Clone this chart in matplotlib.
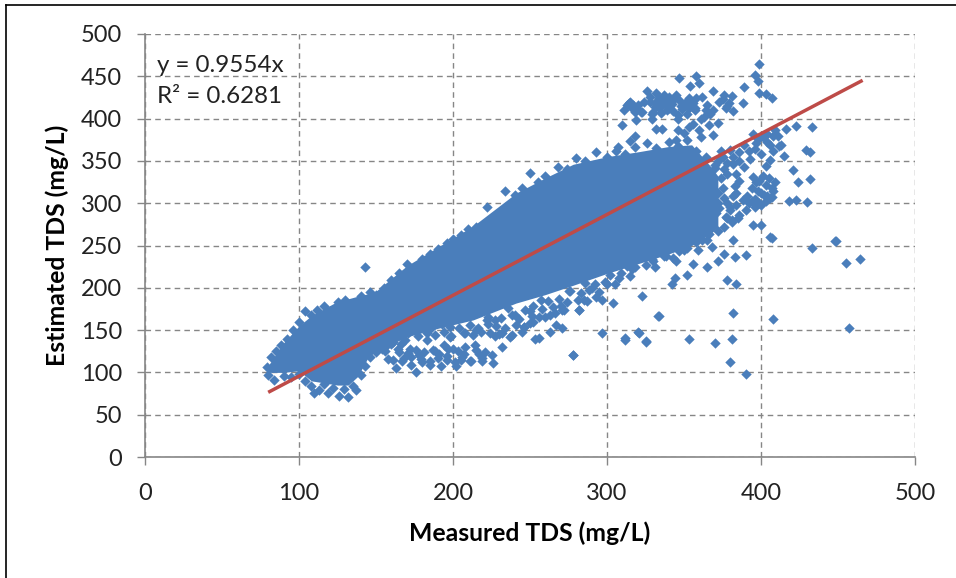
"""Measured vs estimated TDS scatter with a trend line through the origin"""
import matplotlib
matplotlib.use('Agg')
import matplotlib.pyplot as plt
from matplotlib.lines import Line2D

plt.rcParams['font.family'] = ['Lato', 'DejaVu Sans']

# the middle of the cloud is saturated, single points cannot be read there,
# so it is kept as an envelope
core_x = [80, 90, 100, 108, 115, 125, 132, 138, 145, 150, 170, 190, 213, 241,
          260, 278, 300, 321, 340, 355, 368, 372]
core_upper = [108, 135, 155, 167, 174, 184, 187, 190, 193, 196, 226, 248, 273,
              312, 330, 346, 355, 361, 367, 369, 342, 332]
core_lower = [100, 100, 102, 90, 88, 85, 85, 95, 118, 125, 142, 152, 162, 182,
              192, 203, 217, 229, 240, 250, 265, 272]

# points on the upper edge of the cloud
upper_x = [79, 82, 85, 88, 92, 96, 100, 104, 108, 112, 116, 120, 125, 130, 135,
           140, 146, 150, 155, 160, 165, 170, 175, 180, 185, 190, 196, 200,
           205, 210, 215, 222, 228, 234, 240, 245, 250, 255, 260, 268, 274,
           280, 286, 293, 300, 306, 312, 318, 326, 332, 340, 346, 352, 358,
           364, 370, 143]
upper_y = [106, 118, 125, 132, 140, 150, 160, 172, 168, 174, 178, 172, 183,
           186, 179, 190, 195, 192, 200, 209, 218, 228, 225, 234, 240, 246,
           253, 258, 262, 270, 272, 295, 284, 315, 310, 318, 336, 325, 332,
           343, 340, 353, 350, 360, 355, 362, 358, 366, 371, 365, 372, 368,
           375, 362, 355, 345, 225]

# points on the lower edge, left lump and the broken band under the cloud
lower_x = [80, 84, 90, 95, 100, 104, 108, 110, 113, 116, 119, 122, 126, 129,
           132, 135, 137, 140, 143, 146, 150, 154, 158, 163, 168, 173, 176,
           180, 185, 188, 192, 196, 200, 202, 205, 208, 211, 214, 217, 219,
           222, 224, 226, 227, 230, 232, 237, 240, 245, 246, 250, 252, 253,
           256, 260, 263, 266, 270, 271, 272, 275, 278, 282, 287, 290, 293,
           297, 300, 304, 308, 312, 316, 320, 323, 325, 330, 334, 338, 344,
           350, 356, 362, 152, 160, 165, 172, 178, 183, 194, 198, 208, 215]
lower_y = [97, 91, 96, 94, 98, 90, 84, 76, 79, 86, 76, 82, 72, 80, 71, 84, 79,
           97, 107, 118, 124, 128, 116, 105, 117, 109, 101, 112, 109, 125, 107,
           119, 128, 107, 115, 130, 113, 132, 122, 113, 162, 146, 111, 162,
           145, 130, 142, 168, 148, 154, 172, 160, 140, 141, 165, 148, 170,
           178, 153, 174, 196, 120, 174, 184, 200, 189, 186, 205, 182, 212,
           138, 222, 148, 190, 136, 232, 167, 238, 212, 245, 228, 256, 138,
           134, 124, 128, 120, 138, 132, 142, 146, 150]

# more of the broken band, thick enough to read as one mass with small gaps
band_x = [148, 152, 157, 161, 166, 169, 156, 164, 171, 176, 181, 187, 191, 197,
          203, 207, 215, 221, 161, 167, 173, 179, 185, 190, 196, 201, 206, 212,
          219, 225, 171, 177, 183, 188, 194, 199, 207, 213, 218, 227, 232, 238,
          181, 186, 193, 198, 204, 211, 216, 223, 228, 234, 241, 246, 250, 223,
          231, 238, 243, 251, 256, 263, 236, 247, 252, 258, 265, 271, 257, 262,
          269, 274, 281, 285, 276, 283, 288, 295, 286, 292, 299, 305, 302, 309,
          315, 313, 318, 325, 331, 322, 329, 337, 343, 338, 347, 352, 359, 350,
          358, 365, 360, 366, 372]
band_y = [134, 137, 132, 136, 134, 138, 125, 128, 123, 127, 124, 126, 122, 128,
          125, 122, 127, 124, 115, 113, 118, 116, 113, 117, 115, 112, 118, 114,
          117, 120, 146, 143, 147, 144, 148, 143, 146, 144, 148, 143, 147, 144,
          155, 153, 157, 154, 152, 156, 153, 157, 155, 152, 156, 154, 158, 166,
          164, 168, 163, 167, 165, 168, 176, 174, 178, 175, 177, 174, 186, 184,
          187, 183, 186, 185, 196, 194, 197, 195, 206, 204, 207, 205, 215, 217,
          214, 226, 224, 227, 225, 236, 234, 237, 235, 246, 244, 247, 245, 256,
          254, 257, 266, 264, 267]

# isolated points to the lower right
outlier_x = [448, 455, 464, 457, 390, 381, 370, 380, 382, 390, 383, 408, 406,
             378, 384, 358, 382, 353, 333, 321, 312, 325, 297, 278, 267, 282,
             433, 449, 395, 400, 407, 365, 372, 352, 342, 376, 368, 345]
outlier_y = [255, 229, 234, 152, 98, 139, 135, 112, 170, 239, 236, 163, 260,
             209, 205, 260, 257, 139, 167, 147, 141, 137, 147, 120, 156, 174,
             247, 255, 274, 274, 259, 225, 232, 215, 205, 240, 248, 232]

# cluster above the cloud, around 400-450 mg/L
top_x = [399, 396, 398, 347, 358, 354, 360, 369, 389, 326, 399, 403, 407, 376,
         381, 373, 379, 382, 388, 362, 358, 365, 369, 363, 345, 340, 332, 328,
         331, 334, 337, 340, 343, 330, 335, 339, 313, 315, 319, 324, 311, 317,
         322, 347, 350, 353, 356, 349, 353, 357, 319, 329, 346, 356, 361, 310,
         332, 336, 346, 353, 360, 369, 345, 318, 315, 307, 372, 377, 350, 366,
         328, 331, 334, 337, 340, 343, 329, 333, 336, 339, 342, 316, 320, 323,
         314, 318, 348, 351, 354, 357, 346, 352, 364, 367, 361, 375, 378]
top_y = [465, 451, 444, 448, 450, 438, 442, 433, 437, 433, 430, 429, 424, 428,
         427, 420, 418, 409, 418, 426, 424, 416, 410, 402, 428, 426, 430, 420,
         414, 424, 418, 412, 422, 408, 407, 410, 416, 420, 412, 420, 410, 416,
         408, 422, 417, 424, 418, 411, 412, 410, 398, 400, 400, 394, 400, 393,
         388, 388, 386, 390, 386, 381, 375, 379, 373, 367, 395, 412, 383, 392,
         425, 418, 412, 428, 415, 409, 405, 422, 416, 422, 417, 412, 416, 408,
         418, 408, 415, 420, 415, 413, 404, 406, 410, 405, 378, 423, 415]

# arm along the trend line and the lump right of the cloud
arm_x = [416, 423, 433, 429, 432, 409, 404, 395, 408, 411, 413, 406, 415, 406,
         403, 421, 424, 432, 418, 423, 430, 380, 389, 397, 382, 389, 384, 376,
         384, 378, 375, 372, 374, 378, 370, 386, 392, 398, 401, 393, 396, 400,
         404, 408, 412, 395, 399, 403, 407, 394, 398, 402, 406, 380, 384, 388,
         392, 396, 400, 382, 386, 390, 375, 372, 378, 371, 376, 381, 397, 401,
         405, 409, 396, 400, 404, 408, 399, 403, 407, 372, 376, 380, 373, 377,
         381, 385, 391, 394, 383, 386, 374, 378, 382, 386]
arm_y = [388, 391, 390, 363, 360, 386, 382, 382, 379, 379, 369, 369, 356, 351,
         344, 339, 325, 329, 303, 304, 301, 363, 369, 371, 355, 343, 335, 340,
         312, 300, 355, 350, 362, 348, 342, 360, 362, 376, 378, 352, 364, 358,
         372, 362, 368, 331, 326, 322, 318, 318, 314, 310, 306, 292, 298, 304,
         300, 296, 298, 308, 286, 292, 318, 300, 282, 288, 272, 278, 325, 332,
         330, 325, 305, 312, 309, 314, 300, 303, 307, 312, 306, 295, 294, 284,
         280, 282, 308, 303, 320, 326, 330, 334, 346, 350]

trend_x = [81, 465]
trend_y = [77.4, 444.3]

x_ticks = [0, 100, 200, 300, 400, 500]
y_ticks = [0, 50, 100, 150, 200, 250, 300, 350, 400, 450, 500]

BLUE = '#4A7EBB'
RED = '#BE4B48'
GREY = '#868686'
INK = '#222222'

fig = plt.figure(figsize=(9.56, 5.78), dpi=100)
ax = fig.add_axes([145 / 956, 1 - 457 / 578, 770 / 956, 423 / 578])

ax.fill_between(core_x, core_lower, core_upper, color=BLUE, lw=0, zorder=3)
for xs, ys in [(upper_x, upper_y), (lower_x, lower_y), (band_x, band_y),
               (outlier_x, outlier_y), (top_x, top_y), (arm_x, arm_y)]:
    ax.scatter(xs, ys, marker='D', s=28, color=BLUE, linewidths=0, zorder=3)
ax.plot(trend_x, trend_y, color=RED, linewidth=2.5, zorder=4)

ax.set_xlim(0, 500)
ax.set_ylim(0, 500)
ax.set_xticks(x_ticks)
ax.set_yticks(y_ticks)
ax.grid(True, color=GREY, linewidth=1, linestyle=(0, (4, 3)), zorder=1)
ax.set_axisbelow(True)
ax.tick_params(length=5.5, width=1, color=GREY, labelsize=17, labelcolor=INK)
ax.tick_params(axis='x', pad=13)
ax.tick_params(axis='y', pad=11)
for side in ['top', 'right']:
    ax.spines[side].set_visible(False)
for side in ['left', 'bottom']:
    ax.spines[side].set_color(GREY)
    ax.spines[side].set_linewidth(1.2)

ax.set_xlabel('Measured TDS (mg/L)', fontsize=17.8, fontweight='bold',
              labelpad=12.5)
ax.set_ylabel('Estimated TDS (mg/L)', fontsize=17.8, fontweight='bold',
              labelpad=8.5)

ax.text(8, 463, 'y = 0.9554x', fontsize=17.4, color=INK, va='center')
ax.text(8, 426, 'R² = 0.6281', fontsize=17.4, color=INK, va='center')

# black frame of the pasted picture, only top and left are there
for xs, ys in [([6, 956], [573, 573]), ([6, 6], [0, 573])]:
    fig.add_artist(Line2D([v / 956 for v in xs], [v / 578 for v in ys],
                          color='black', linewidth=1.2))

plt.savefig('out.png', dpi=100)
plt.close()
